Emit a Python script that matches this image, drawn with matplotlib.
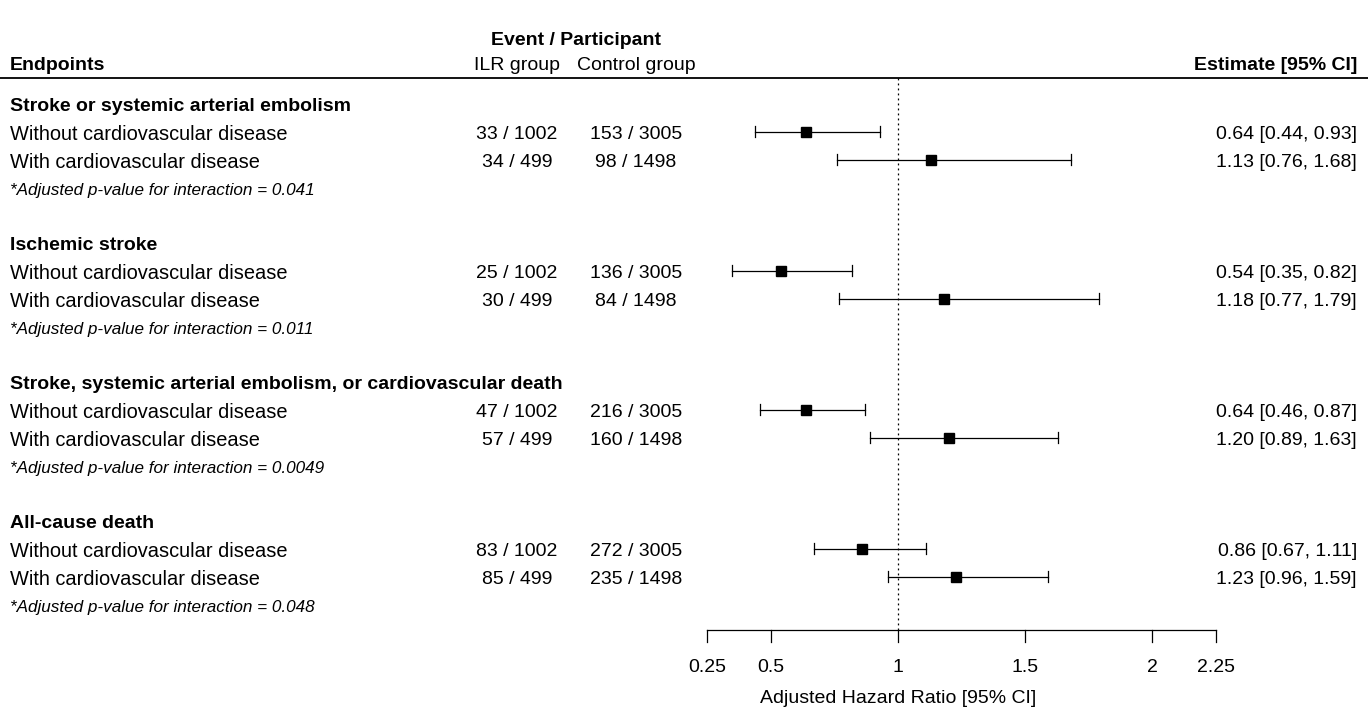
import matplotlib
matplotlib.use("Agg")
import matplotlib.pyplot as plt

plt.rcParams['font.family'] = ['Liberation Sans', 'DejaVu Sans']

groups = ["Stroke or systemic arterial embolism",
          "Ischemic stroke",
          "Stroke, systemic arterial embolism, or cardiovascular death",
          "All-cause death"]
subgroups = ["Without cardiovascular disease", "With cardiovascular disease"]
ilr_events = [[33, 34], [25, 30], [47, 57], [83, 85]]
ilr_n = [[1002, 499], [1002, 499], [1002, 499], [1002, 499]]
ctrl_events = [[153, 98], [136, 84], [216, 160], [272, 235]]
ctrl_n = [[3005, 1498], [3005, 1498], [3005, 1498], [3005, 1498]]
hr = [[0.64, 1.13], [0.54, 1.18], [0.64, 1.20], [0.86, 1.23]]
lo = [[0.44, 0.76], [0.35, 0.77], [0.46, 0.89], [0.67, 0.96]]
hi = [[0.93, 1.68], [0.82, 1.79], [0.87, 1.63], [1.11, 1.59]]
pvals = ["0.041", "0.011", "0.0049", "0.048"]
xticks = [0.25, 0.5, 1, 1.5, 2, 2.25]
xticklabels = ["0.25", "0.5", "1", "1.5", "2", "2.25"]

W, H = 1372, 710
fig = plt.figure(figsize=(W / 100, H / 100), dpi=100)
ax = fig.add_axes([0, 0, 1, 1])
ax.axis('off')

# x scale: HR 0.25 at px 707, 2.25 at px 1216
px_per = (1216 - 707) / 2.0
x_left = 0.25 - 707 / px_per
x_right = 0.25 + (W - 707) / px_per
row_h = 27.8
y0_px = 104
ax.set_xlim(x_left, x_right)
ax.set_ylim((H - y0_px) / row_h, -y0_px / row_h)

def px2x(p):
    return x_left + p / px_per

fs = 14.0
fs_sub = 14.4
fs_p = 12.3
dy = 0.1
col_left = px2x(10)
col_ilr = px2x(517)
col_ctrl = px2x(636)
col_est = px2x(1357)

# header
ax.text(px2x(576), -2.4 + dy, "Event / Participant", ha='center', va='center', fontsize=fs, fontweight='bold')
ax.text(col_left, -1.5 + dy, "Endpoints", ha='left', va='center', fontsize=fs, fontweight='bold')
ax.text(col_ilr, -1.5 + dy, "ILR group", ha='center', va='center', fontsize=fs)
ax.text(col_ctrl, -1.5 + dy, "Control group", ha='center', va='center', fontsize=fs)
ax.text(col_est, -1.5 + dy, "Estimate [95% CI]", ha='right', va='center', fontsize=fs, fontweight='bold')
ax.plot([x_left, px2x(1368)], [-0.93, -0.93], color='black', lw=1.3, solid_capstyle='butt')

axis_y = 18.92
ax.plot([1, 1], [-0.93, axis_y], color='black', lw=0.9, ls=(0, (1.5, 2.5)))

for g, name in enumerate(groups):
    base = 5 * g
    ax.text(col_left, base + dy, name, ha='left', va='center', fontsize=fs, fontweight='bold')
    for s, sub in enumerate(subgroups):
        y = base + 1 + s
        ax.text(col_left, y + dy, sub, ha='left', va='center', fontsize=fs_sub)
        ax.text(col_ilr, y + dy, f"{ilr_events[g][s]} / {ilr_n[g][s]}", ha='center', va='center', fontsize=fs)
        ax.text(col_ctrl, y + dy, f"{ctrl_events[g][s]} / {ctrl_n[g][s]}", ha='center', va='center', fontsize=fs)
        ax.text(col_est, y + dy, f"{hr[g][s]:.2f} [{lo[g][s]:.2f}, {hi[g][s]:.2f}]", ha='right', va='center', fontsize=fs)
        ax.plot([lo[g][s], hi[g][s]], [y, y], color='black', lw=0.9)
        for e in (lo[g][s], hi[g][s]):
            ax.plot([e, e], [y - 0.2, y + 0.2], color='black', lw=0.9)
        ax.plot([hr[g][s]], [y], marker='s', ms=7.0, color='black', mec='black')
    ax.text(col_left, base + 3 + dy, f"*Adjusted p-value for interaction = {pvals[g]}",
            ha='left', va='center', fontsize=fs_p, style='italic')

# bottom axis
ax.plot([xticks[0], xticks[-1]], [axis_y, axis_y], color='black', lw=0.9)
for t, lab in zip(xticks, xticklabels):
    ax.plot([t, t], [axis_y, axis_y + 0.45], color='black', lw=0.9)
    ax.text(t, 20.18 + dy, lab, ha='center', va='center', fontsize=fs)
ax.text(1, 21.27 + dy, "Adjusted Hazard Ratio [95% CI]", ha='center', va='center', fontsize=fs)

fig.savefig("out.png", dpi=100)
